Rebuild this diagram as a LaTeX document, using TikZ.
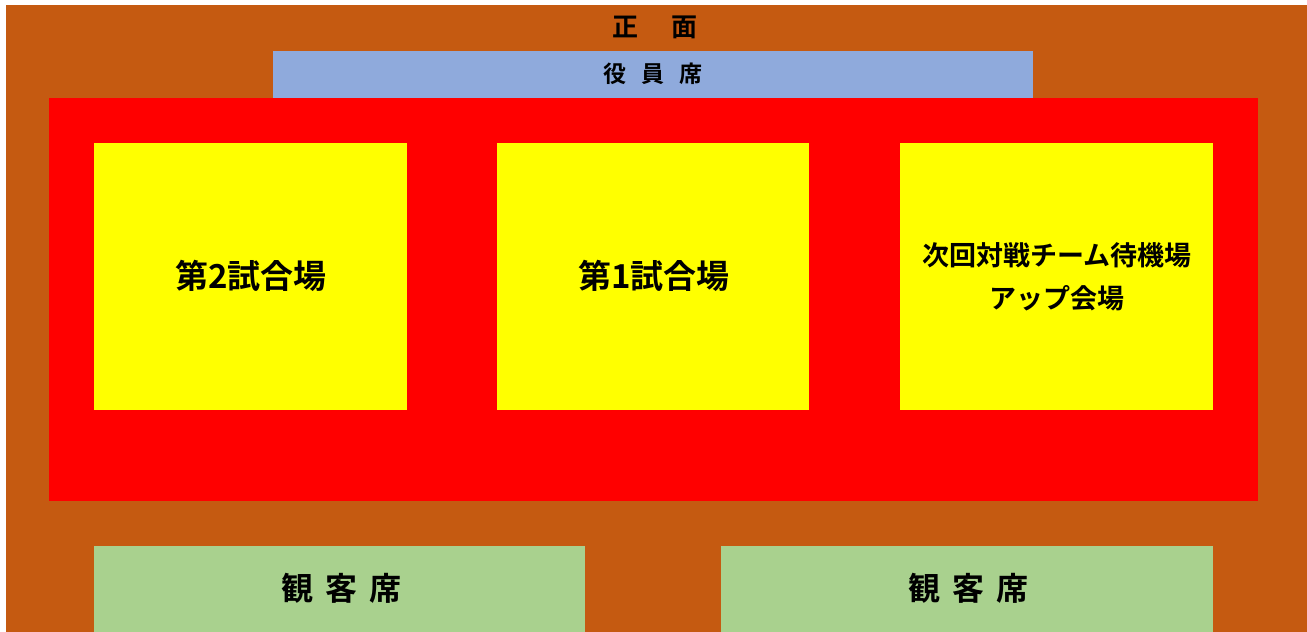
\documentclass[tikz,border=0pt]{standalone}
\usepackage{fontspec}
\newfontfamily\jpfont{Noto Sans CJK JP Bold}
\begin{document}
\begin{tikzpicture}[x=1bp, y=-1bp, every node/.style={text = black, font = \jpfont, inner sep = 0pt}]
\useasboundingbox (0, 0) rectangle (1307, 632);
\definecolor{col}{HTML}{C55A11}
\fill[col] (6, 5) rectangle (1307, 632) (655, 27) node[font = \jpfont\fontsize{26bp}{30bp}\selectfont] (front) {正\kern 34bp 面};
\definecolor{col}{HTML}{8FAADC}
\fill[col] (273, 51) rectangle (1033, 98) (653, 74) node[font = \jpfont\fontsize{23bp}{28bp}\selectfont] (officials) {役\kern 15bp 員\kern 15bp 席};
\definecolor{col}{HTML}{FF0000}
\fill[col] (49, 98) rectangle (1258, 501);
\definecolor{col}{HTML}{FFFF00}
\fill[col] (94, 143) rectangle (407, 410) (251, 276) node[font = \jpfont\fontsize{33bp}{38bp}\selectfont] (court2) {第2試合場};
\fill[col] (497, 143) rectangle (809, 410) (654, 276) node[font = \jpfont\fontsize{33bp}{38bp}\selectfont] (court1) {第1試合場};
\fill[col] (900, 143) rectangle (1213, 410) (1057, 277) node[align = center, font = \jpfont\fontsize{27bp}{43bp}\selectfont] (waiting) {次回対戦チーム待機場\\アップ会場};
\definecolor{col}{HTML}{A9D18E}
\fill[col] (94, 546) rectangle (585, 632) (341, 588) node[font = \jpfont\fontsize{32bp}{36bp}\selectfont] (seatsL) {観\kern 12bp 客\kern 12bp 席};
\fill[col] (721, 546) rectangle (1213, 632) (968, 588) node[font = \jpfont\fontsize{32bp}{36bp}\selectfont] (seatsR) {観\kern 12bp 客\kern 12bp 席};
\end{tikzpicture}
\end{document}
